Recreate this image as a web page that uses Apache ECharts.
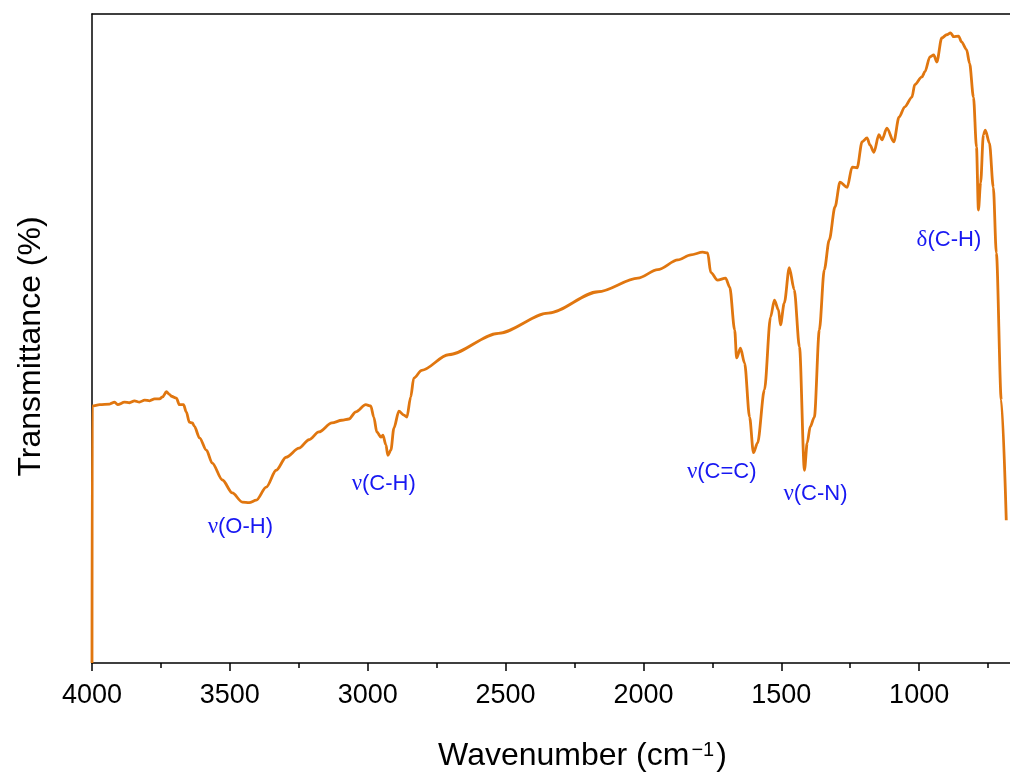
<!DOCTYPE html>
<html>
<head>
<meta charset="utf-8">
<script src="https://cdn.jsdelivr.net/npm/echarts@6/dist/echarts.min.js"></script>
<style>
  html, body { margin: 0; padding: 0; background: #fff; overflow: hidden; }
  /* the frame runs on past the right edge of the window, down to 500 cm^-1 */
  #chart { width: 1060px; height: 778px; }
</style>
</head>
<body>
<div id="chart"></div>
<script>
// FTIR spectrum: wavenumber (cm^-1) and relative transmittance (%)
const wavenumber = [
  4000, 3999, 3972, 3936, 3918, 3907, 3882, 3864, 3846, 3828, 3809, 3791, 3773, 3755,
  3744, 3730, 3719, 3712, 3694, 3683, 3668, 3658, 3647, 3636, 3629, 3610, 3585, 3564,
  3527, 3491, 3455, 3430, 3404, 3368, 3332, 3296, 3249, 3213, 3177, 3130, 3094, 3068,
  3043, 3007, 2989, 2978, 2967, 2952, 2945, 2934, 2927, 2916, 2905, 2887, 2869, 2858,
  2844, 2833, 2804, 2707, 2526, 2345, 2164, 2020, 1948, 1875, 1828, 1785, 1767, 1756,
  1731, 1702, 1687, 1669, 1662, 1648, 1633, 1615, 1601, 1586, 1561, 1539, 1525, 1510,
  1503, 1489, 1471, 1453, 1434, 1416, 1406, 1395, 1380, 1362, 1344, 1326, 1305, 1287,
  1261, 1243, 1225, 1207, 1189, 1178, 1164, 1146, 1135, 1117, 1092, 1073, 1052, 1026,
  1016, 990, 979, 961, 947, 936, 918, 900, 886, 875, 857, 846, 828, 817, 803, 792,
  785, 777, 767, 760, 745, 731, 720, 702, 684
];
const transmittance = [
  0.0, 39.6, 39.8, 39.9, 40.2, 39.8, 40.2, 40.1, 40.4, 40.2, 40.5, 40.4, 40.7, 40.7,
  41.0, 41.8, 41.4, 41.1, 40.8, 39.8, 39.8, 38.7, 37.1, 37.0, 36.5, 34.7, 32.8, 30.8,
  28.2, 26.2, 24.8, 24.7, 25.1, 27.1, 29.7, 31.7, 33.1, 34.4, 35.6, 37.0, 37.4, 37.6,
  38.7, 39.8, 39.6, 37.9, 35.6, 34.8, 35.1, 33.6, 32.0, 32.8, 36.2, 38.8, 38.2, 37.9,
  41.0, 43.9, 45.1, 47.5, 50.8, 53.9, 57.2, 59.3, 60.6, 62.1, 62.9, 63.3, 63.2, 60.2,
  59.0, 59.3, 57.9, 51.3, 47.0, 48.5, 46.2, 37.9, 32.4, 33.9, 42.1, 53.3, 55.9, 54.4,
  52.1, 55.5, 60.9, 57.5, 48.7, 29.7, 33.9, 36.4, 37.9, 51.3, 60.6, 65.2, 70.3, 74.1,
  73.3, 76.4, 76.3, 80.3, 80.9, 79.8, 78.7, 81.4, 80.6, 82.4, 80.3, 84.1, 85.7, 87.2,
  89.1, 90.3, 91.1, 93.4, 93.7, 92.6, 96.3, 96.8, 97.1, 96.5, 96.6, 95.7, 94.5, 92.4,
  87.2, 79.5, 69.8, 74.0, 81.4, 82.1, 80.1, 73.3, 63.2, 40.5, 22.0
];

// Band assignments: Greek symbol, bond, and where the label sits (wavenumber, transmittance)
const bandSymbol = ['ν', 'ν', 'ν', 'ν', 'δ'];
const bandBond = ['(O-H)', '(C-H)', '(C=C)', '(C-N)', '(C-H)'];
const bandWavenumber = [3462, 2942, 1716, 1376, 892];
const bandTransmittance = [21.0, 27.6, 29.4, 26.0, 65.2];

const xTicks = [500, 1000, 1500, 2000, 2500, 3000, 3500, 4000];

const FONT = 'Liberation Sans, Arial, sans-serif';
const SERIF = 'Liberation Serif, DejaVu Serif, serif';
const LINE_COLOR = '#E0760F';
const LABEL_BLUE = '#1818F2';

const chart = echarts.init(document.getElementById('chart'), null, { renderer: 'canvas' });

const spectrum = wavenumber.map((w, i) => [w, transmittance[i]]);
const bands = bandBond.map((bond, i) => ({
  name: bandSymbol[i] + bond,
  coord: [bandWavenumber[i], bandTransmittance[i]],
  label: { formatter: '{g|' + bandSymbol[i] + '}{b|' + bond + '}' }
}));

chart.setOption({
  backgroundColor: '#ffffff',
  animation: false,
  grid: { left: 92, right: 0, top: 14, bottom: 115, containLabel: false },
  xAxis: [
    {
      type: 'value',
      inverse: true,
      min: xTicks[0],
      max: xTicks[xTicks.length - 1],
      interval: 500,
      position: 'bottom',
      axisLine: { show: true, onZero: false, lineStyle: { color: '#000', width: 1.5 } },
      axisTick: { show: true, inside: false, length: 8, lineStyle: { color: '#000', width: 1.5 } },
      minorTick: { show: true, splitNumber: 2, length: 5, lineStyle: { color: '#000', width: 1.5 } },
      splitLine: { show: false },
      minorSplitLine: { show: false },
      axisLabel: {
        show: true, margin: 19, fontSize: 27, color: '#000', fontFamily: FONT,
        formatter: v => (v === xTicks[0] ? '' : String(v))
      },
      name: '{t|Wavenumber (cm}{s|−1}{t|)}',
      nameLocation: 'middle',
      nameGap: 77,
      nameTextStyle: {
        padding: [0, 0, 0, 16],
        rich: {
          t: { fontSize: 32, color: '#000', fontFamily: FONT },
          s: { fontSize: 20, color: '#000', fontFamily: FONT, verticalAlign: 'top', padding: [0, 2, 4, 2] }
        }
      }
    },
    {
      type: 'value',
      inverse: true,
      min: xTicks[0],
      max: xTicks[xTicks.length - 1],
      position: 'top',
      axisLine: { show: true, onZero: false, lineStyle: { color: '#000', width: 1.5 } },
      axisTick: { show: false },
      axisLabel: { show: false },
      splitLine: { show: false }
    }
  ],
  yAxis: {
    type: 'value',
    min: 0,
    max: 100,
    axisLine: { show: true, onZero: false, lineStyle: { color: '#000', width: 1.5 } },
    axisTick: { show: false },
    axisLabel: { show: false },
    splitLine: { show: false },
    name: 'Transmittance (%)',
    nameLocation: 'middle',
    nameGap: 45,
    nameTextStyle: { fontSize: 32, color: '#000', fontFamily: FONT, padding: [0, 16, 0, 0] }
  },
  series: [
    {
      type: 'line',
      data: spectrum,
      showSymbol: false,
      smooth: 0.3,
      smoothMonotone: 'x',
      clip: true,
      lineStyle: { color: LINE_COLOR, width: 2.8 },
      markPoint: {
        symbol: 'circle',
        symbolSize: 0,
        silent: true,
        label: {
          show: true,
          position: 'inside',
          color: LABEL_BLUE,
          rich: {
            g: { fontSize: 23, color: LABEL_BLUE, fontFamily: SERIF },
            b: { fontSize: 22, color: LABEL_BLUE, fontFamily: FONT }
          }
        },
        data: bands
      }
    }
  ]
});
</script>
</body>
</html>
